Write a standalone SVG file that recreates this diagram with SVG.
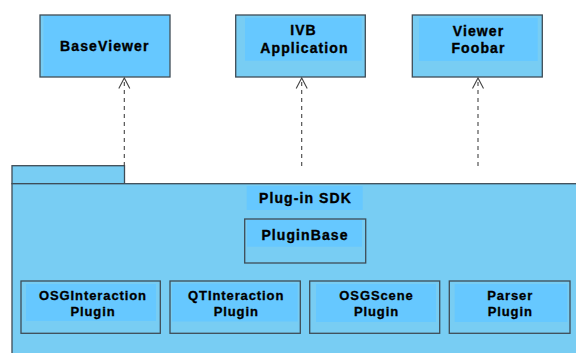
<svg xmlns="http://www.w3.org/2000/svg" width="576" height="353" viewBox="0 0 576 353">
<style>
.box{fill:#78cdf3;stroke:#3e4c56;stroke-width:1.3}
.lbl{fill:#66c8ff}
.t{font-family:"Liberation Sans",Arial,sans-serif;font-weight:bold;font-size:14px;letter-spacing:1.1px;fill:#000;stroke:#000;stroke-width:0.35;text-anchor:middle}
.s{font-family:"Liberation Sans",Arial,sans-serif;font-weight:bold;font-size:13px;letter-spacing:0.9px;fill:#000;stroke:#000;stroke-width:0.3;text-anchor:middle}
.dep{fill:none;stroke:#444;stroke-width:1.1;stroke-dasharray:4 4}
.head{fill:none;stroke:#444;stroke-width:1.1}
</style>
<rect width="576" height="353" fill="#fff"/>
<g id="pkg-plugin-sdk">
<rect class="box" x="12" y="165.7" width="112.5" height="18"/>
<rect class="box" x="12" y="183.7" width="570" height="175"/>
<rect class="lbl" x="246.7" y="186" width="116" height="24"/>
<text class="t" x="305.5" y="202.5">Plug-in SDK</text>
</g>
<g id="BaseViewer">
<rect class="box" x="40" y="15" width="130" height="62"/>
<rect class="lbl" x="43.5" y="16" width="125.5" height="60"/>
<text class="t" x="104.8" y="50.5">BaseViewer</text>
</g>
<g id="IVBApplication">
<rect class="box" x="235.7" y="15" width="129.6" height="62"/>
<rect class="lbl" x="245" y="17.7" width="116.7" height="43"/>
<text class="t" x="303.5" y="35">IVB</text>
<text class="t" x="304.5" y="53">Application</text>
</g>
<g id="ViewerFoobar">
<rect class="box" x="412.3" y="15" width="130" height="62"/>
<rect class="lbl" x="419" y="18" width="118.7" height="43"/>
<text class="t" x="478.5" y="35.5">Viewer</text>
<text class="t" x="478.5" y="53">Foobar</text>
</g>
<g id="PluginBase">
<rect class="box" x="244.7" y="219" width="121" height="44"/>
<rect class="lbl" x="247" y="220" width="115" height="26.7"/>
<text class="t" x="305" y="239.5">PluginBase</text>
</g>
<g id="OSGInteractionPlugin">
<rect class="box" x="21" y="281" width="139.3" height="52.3"/>
<rect class="lbl" x="26" y="284" width="130" height="37"/>
<text class="s" x="93" y="300">OSGInteraction</text>
<text class="s" x="93" y="315.5">Plugin</text>
</g>
<g id="QTInteractionPlugin">
<rect class="box" x="170" y="281" width="130.3" height="52.3"/>
<rect class="lbl" x="172" y="283.5" width="125.7" height="38"/>
<text class="s" x="236.2" y="300">QTInteraction</text>
<text class="s" x="236.2" y="315.5">Plugin</text>
</g>
<g id="OSGScenePlugin">
<rect class="box" x="309.7" y="281" width="130" height="52.3"/>
<rect class="lbl" x="316" y="284" width="120" height="38"/>
<text class="s" x="376.5" y="300">OSGScene</text>
<text class="s" x="376.5" y="315.5">Plugin</text>
</g>
<g id="ParserPlugin">
<rect class="box" x="449.3" y="281" width="120.7" height="52.3"/>
<rect class="lbl" x="454.7" y="284" width="112.6" height="38"/>
<text class="s" x="510.2" y="300">Parser</text>
<text class="s" x="510.2" y="315.5">Plugin</text>
</g>
<g id="connectors">
<line class="dep" x1="124.3" y1="166" x2="124.3" y2="79"/>
<polyline class="head" points="118.8,88.5 124.3,78 129.8,88.5"/>
<line class="dep" x1="301.7" y1="166" x2="301.7" y2="79"/>
<polyline class="head" points="296.2,88.5 301.7,78 307.2,88.5"/>
<line class="dep" x1="478" y1="166" x2="478" y2="79"/>
<polyline class="head" points="472.5,88.5 478,78 483.5,88.5"/>
</g>
</svg>
